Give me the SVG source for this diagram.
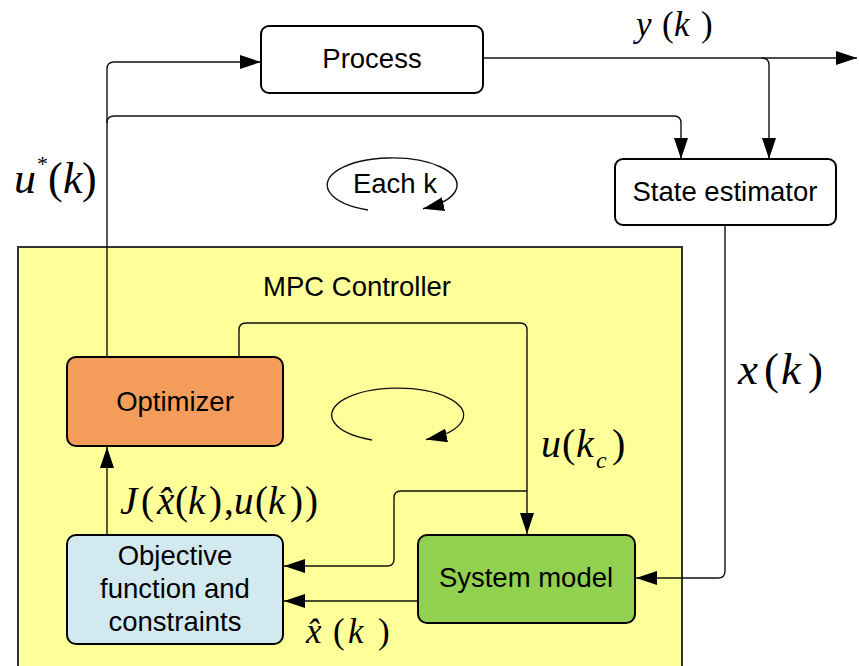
<svg xmlns="http://www.w3.org/2000/svg" width="859" height="666" viewBox="0 0 859 666">
<style>
.box{stroke:#000;stroke-width:2}
.lbl{font-family:"Liberation Sans",Arial,sans-serif;font-size:27.5px;text-anchor:middle;fill:#000}
.math{font-family:"Liberation Serif","Times New Roman",serif;font-style:italic;fill:#000}
.n{font-style:normal}
.c{fill:none;stroke:#111;stroke-width:1.4}
</style>
<defs>
<marker id="ah" markerUnits="userSpaceOnUse" markerWidth="22" markerHeight="14" refX="21" refY="7" orient="auto">
<path d="M0,0 L21,7 L0,14 z" fill="#000"/>
</marker>
</defs>
<rect width="859" height="666" fill="#fff"/>

<g id="mpc">
<rect x="18" y="247" width="664" height="440" fill="#FFFF99" stroke="#333" stroke-width="2"/>
<text class="lbl" x="357" y="296">MPC Controller</text>
</g>

<g id="connectors">
<path class="c" d="M107,357 V69 Q107,62 114,62 H261" marker-end="url(#ah)"/>
<path class="c" d="M107,123 Q107,116 114,116 H674 Q681,116 681,123 V159" marker-end="url(#ah)"/>
<path class="c" d="M483,58 H857" marker-end="url(#ah)"/>
<path class="c" d="M762,58 Q769,58 769,65 V159" marker-end="url(#ah)"/>
<path class="c" d="M725,225 V571 Q725,578 718,578 H636" marker-end="url(#ah)"/>
<path class="c" d="M239,357 V330 Q239,323 246,323 H520 Q527,323 527,330 V534" marker-end="url(#ah)"/>
<path class="c" d="M527,491 H401 Q394,491 394,498 V559 Q394,566 387,566 H284" marker-end="url(#ah)"/>
<path class="c" d="M107,535 V447" marker-end="url(#ah)"/>
<path class="c" d="M418,601 H284" marker-end="url(#ah)"/>
<path class="c" d="M368,210 A65,27 0 1 1 423,208.7" marker-end="url(#ah)"/>
<path class="c" d="M372,440 A66,27 0 1 1 426,439.5" marker-end="url(#ah)"/>
</g>

<g id="process">
<rect class="box" x="261" y="26" width="222" height="67" rx="8" fill="#fff"/>
<text class="lbl" x="372" y="68">Process</text>
</g>

<g id="state-estimator">
<rect class="box" x="615" y="159" width="221" height="66" rx="8" fill="#fff"/>
<text class="lbl" x="725" y="201">State estimator</text>
</g>

<g id="each-k">
<text class="lbl" x="395" y="193">Each k</text>
</g>

<g id="optimizer">
<rect class="box" x="67" y="357" width="216" height="89" rx="9" fill="#F49D5A"/>
<text class="lbl" x="175" y="411">Optimizer</text>
</g>

<g id="objective">
<rect class="box" x="67" y="535" width="216" height="109" rx="9" fill="#D3E9F0"/>
<text class="lbl" x="175" y="565">Objective</text>
<text class="lbl" x="175" y="598">function and</text>
<text class="lbl" x="175" y="631">constraints</text>
</g>

<g id="system-model">
<rect class="box" x="418" y="535" width="217" height="88" rx="9" fill="#92D050"/>
<text class="lbl" x="526" y="587">System model</text>
</g>

<g id="labels">
<text class="math" font-size="44"><tspan x="14" y="193">u</tspan><tspan x="37" y="171" font-size="22" class="n">*</tspan><tspan x="48" y="193" class="n">(</tspan><tspan x="63" y="193">k</tspan><tspan x="82" y="193" class="n">)</tspan></text>
<text class="math" font-size="35"><tspan x="636" y="36">y</tspan><tspan x="662" y="36" class="n">(</tspan><tspan x="674" y="36">k</tspan><tspan x="701" y="36" class="n">)</tspan></text>
<text class="math" font-size="45"><tspan x="738" y="384">x</tspan><tspan x="764" y="384" class="n">(</tspan><tspan x="781" y="384">k</tspan><tspan x="808" y="384" class="n">)</tspan></text>
<text class="math" font-size="40"><tspan x="541" y="457">u</tspan><tspan x="562" y="457" class="n">(</tspan><tspan x="576" y="457">k</tspan><tspan x="596" y="468" font-size="24">c</tspan><tspan x="612" y="457" class="n">)</tspan></text>
<text class="math" font-size="39"><tspan x="120" y="514">J</tspan><tspan x="141" y="514" class="n">(</tspan><tspan x="157" y="514">x̂</tspan><tspan x="175" y="514" class="n">(</tspan><tspan x="188" y="514">k</tspan><tspan x="209" y="514" class="n">)</tspan><tspan x="224" y="514" class="n">,</tspan><tspan x="234" y="514">u</tspan><tspan x="255" y="514" class="n">(</tspan><tspan x="268" y="514">k</tspan><tspan x="290" y="514" class="n">)</tspan><tspan x="305" y="514" class="n">)</tspan></text>
<text class="math" font-size="35"><tspan x="306" y="643">x̂</tspan><tspan x="333" y="643" class="n">(</tspan><tspan x="348" y="643">k</tspan><tspan x="378" y="643" class="n">)</tspan></text>
</g>
</svg>
